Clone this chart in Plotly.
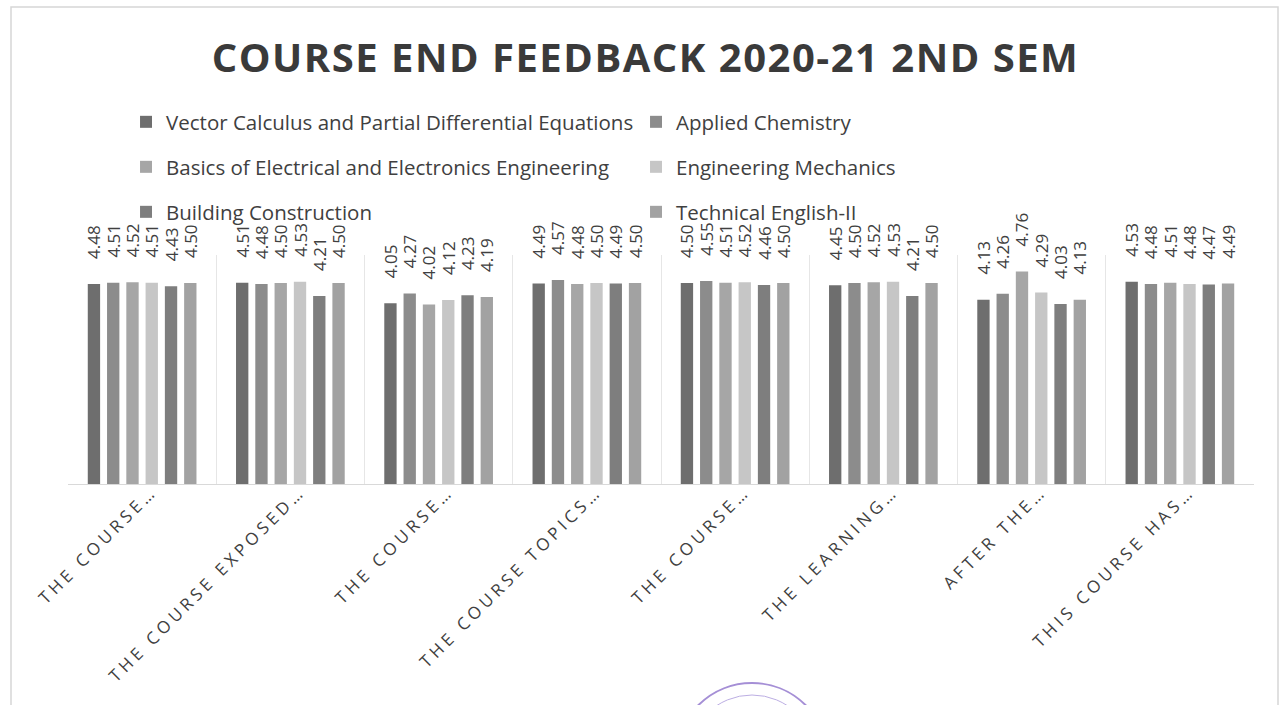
import plotly.graph_objects as go

# Survey questions (truncated as on the axis) and subjects
questions = ["Q1", "Q2", "Q3", "Q4", "Q5", "Q6", "Q7", "Q8"]
question_labels = [
    "THE COURSE…",
    "THE COURSE EXPOSED…",
    "THE COURSE…",
    "THE COURSE TOPICS…",
    "THE COURSE…",
    "THE LEARNING…",
    "AFTER THE…",
    "THIS COURSE HAS…",
]
subjects = [
    "Vector Calculus and Partial Differential Equations",
    "Applied Chemistry",
    "Basics of Electrical and Electronics Engineering",
    "Engineering Mechanics",
    "Building Construction",
    "Technical English-II",
]

# Average feedback score per question for each subject
vector_calculus = [4.48, 4.51, 4.05, 4.49, 4.50, 4.45, 4.13, 4.53]
applied_chemistry = [4.51, 4.48, 4.27, 4.57, 4.55, 4.50, 4.26, 4.48]
basics_eee = [4.52, 4.50, 4.02, 4.48, 4.51, 4.52, 4.76, 4.51]
engineering_mechanics = [4.51, 4.53, 4.12, 4.50, 4.52, 4.53, 4.29, 4.48]
building_construction = [4.43, 4.21, 4.23, 4.49, 4.46, 4.21, 4.03, 4.47]
technical_english = [4.50, 4.50, 4.19, 4.50, 4.50, 4.50, 4.13, 4.49]

series = [vector_calculus, applied_chemistry, basics_eee,
          engineering_mechanics, building_construction, technical_english]
colors = ["#6e6e6e", "#8c8c8c", "#a6a6a6", "#c6c6c6", "#7e7e7e", "#a2a2a2"]
legend_ids = ["legend", "legend", "legend2", "legend2", "legend3", "legend3"]

TEXT = "#404040"
FONT = "Open Sans"

# plot area in pixels
L, R, T, B = 68, 32, 255, 221
W, H = 1286, 705
PW, PH = W - L - R, H - T - B


def px_x(px):
    return (px - L) / PW


def px_y(py):
    return (H - B - py) / PH


fig = go.Figure()
for name, vals, col, lg in zip(subjects, series, colors, legend_ids):
    fig.add_trace(go.Bar(
        x=questions, y=vals, name=name, legend=lg,
        marker=dict(color=col, line=dict(width=0)),
        texttemplate="\u00a0" * 5 + "%{y:.2f}",
        textposition="outside", textangle=-90, constraintext="none",
        cliponaxis=False,
        outsidetextfont=dict(family=FONT, size=17, color=TEXT),
    ))

legend_common = dict(
    orientation="h", xref="container", yref="container",
    xanchor="left", yanchor="middle", x=0.098,
    font=dict(family=FONT, size=20.5, color=TEXT),
    bgcolor="rgba(0,0,0,0)", entrywidth=465, entrywidthmode="pixels",
    itemclick=False, itemdoubleclick=False, traceorder="normal",
)

ticktext = ['<span style="letter-spacing:4px">%s</span>' % t for t in question_labels]

fig.update_layout(
    width=W, height=H,
    margin=dict(l=L, r=R, t=T, b=B),
    paper_bgcolor="white", plot_bgcolor="white",
    barmode="group", bargap=0.22, bargroupgap=0.36,
    title=dict(
        text='<b><span style="letter-spacing:1.5px">COURSE END FEEDBACK 2020-21 2ND SEM</span></b>',
        xref="container", yref="container", x=0.502, y=0.918,
        xanchor="center", yanchor="middle",
        font=dict(family=FONT, size=40, color="#3a3a3a"),
    ),
    legend=dict(legend_common, y=1 - 122 / H),
    legend2=dict(legend_common, y=1 - 167 / H),
    legend3=dict(legend_common, y=1 - 212 / H),
    xaxis=dict(
        type="category", tickmode="array", tickvals=questions, ticktext=ticktext,
        tickangle=-45, tickson="boundaries", ticks="",
        ticklabelshift=10, ticklabelstandoff=-10,
        showgrid=True, gridcolor="#e6e6e6", gridwidth=1,
        showline=True, linecolor="#d9d9d9", linewidth=1,
        tickfont=dict(family=FONT, size=17, color=TEXT),
    ),
    yaxis=dict(range=[0, 5.13], visible=False, showgrid=False, zeroline=False),
    shapes=[
        # chart frame
        dict(type="rect", xref="paper", yref="paper",
             x0=px_x(11), x1=px_x(1278), y0=px_y(740), y1=px_y(7),
             line=dict(color="#d6d6d6", width=1.5), layer="below"),
        # seal peeking in at the bottom edge
        dict(type="circle", xref="paper", yref="paper",
             x0=px_x(676), x1=px_x(828), y0=px_y(835), y1=px_y(683),
             line=dict(color="#a58fd6", width=2)),
        dict(type="circle", xref="paper", yref="paper",
             x0=px_x(688), x1=px_x(816), y0=px_y(823), y1=px_y(695),
             line=dict(color="#bcaee3", width=1)),
    ],
    showlegend=True,
)

fig.write_html("out.html")
